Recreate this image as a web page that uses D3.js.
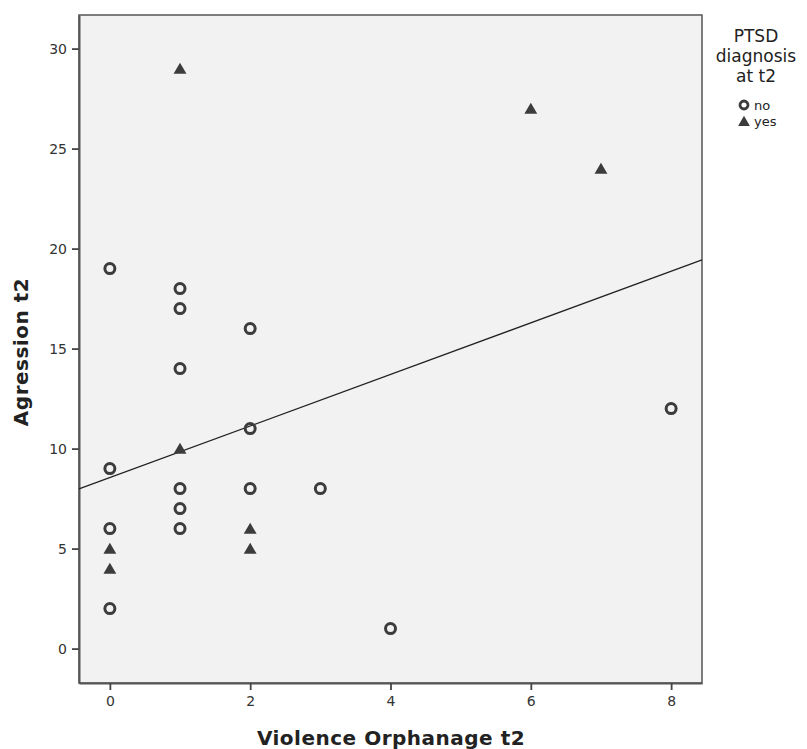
<!DOCTYPE html>
<html>
<head>
<meta charset="utf-8">
<script src="https://cdn.jsdelivr.net/npm/d3@7"></script>
<style>
  body { margin: 0; background: #fff; }
  text { font-family: "DejaVu Sans", sans-serif; }
</style>
</head>
<body>
<script>
   // data
   let noX  = [0, 0, 0, 0, 1, 1, 1, 1, 1, 1, 2, 2, 2, 3, 4, 8];
   let noY  = [19, 9, 6, 2, 18, 17, 14, 8, 7, 6, 16, 11, 8, 8, 1, 12];
   let yesX = [0, 0, 1, 1, 2, 2, 6, 7];
   let yesY = [5, 4, 29, 10, 6, 5, 27, 24];
   // fit line
   let fitIntercept = 8.55;
   let fitSlope = 1.29;
   let xTicks = [0, 2, 4, 6, 8];
   let yTicks = [0, 5, 10, 15, 20, 25, 30];
   let legendTitle = ['PTSD', 'diagnosis', 'at t2'];
   let legendLabels = ['no', 'yes'];

   let width = 807;
   let height = 749;
   let plotLeft = 79, plotRight = 702, plotTop = 15, plotBottom = 683;

   let svg = d3.select('body').append('svg')
      .attr('width', width)
      .attr('height', height);

   let xScale = d3.scaleLinear().domain([-0.44, 8.44]).range([plotLeft, plotRight]);
   let yScale = d3.scaleLinear().domain([-1.72, 31.68]).range([plotBottom, plotTop]);

   // plot background
   svg.append('rect')
      .attr('x', plotLeft).attr('y', plotTop)
      .attr('width', plotRight - plotLeft).attr('height', plotBottom - plotTop)
      .attr('fill', '#f2f2f2')
      .attr('stroke', '#555').attr('stroke-width', 1.5);

   // axes
   let xAxis = d3.axisBottom(xScale).tickValues(xTicks).tickSizeInner(7).tickSizeOuter(0).tickPadding(6);
   let yAxis = d3.axisLeft(yScale).tickValues(yTicks).tickSizeInner(7).tickSizeOuter(0).tickPadding(5);
   let gx = svg.append('g')
      .attr('transform', 'translate(0, ' + plotBottom + ')')
      .call(xAxis);
   let gy = svg.append('g')
      .attr('transform', 'translate(' + plotLeft + ', 0)')
      .call(yAxis);
   [gx, gy].forEach(g => {
      g.select('.domain').attr('stroke', '#555').attr('stroke-width', 2);
      g.selectAll('.tick line').attr('stroke', '#444').attr('stroke-width', 1.8);
      g.selectAll('.tick text').attr('fill', '#333').style('font-size', '14px')
         .style('font-family', '"DejaVu Sans", sans-serif');
   });

   // fit line
   let xd = xScale.domain();
   svg.append('line')
      .attr('x1', xScale(xd[0])).attr('y1', yScale(fitIntercept + fitSlope * xd[0]))
      .attr('x2', xScale(xd[1])).attr('y2', yScale(fitIntercept + fitSlope * xd[1]))
      .attr('stroke', '#222').attr('stroke-width', 1.3);

   // markers
   let triangle = d3.symbol().type(d3.symbolTriangle).size(72);
   svg.selectAll('circle.no')
      .data(noX.map((x, i) => [x, noY[i]]))
      .enter()
      .append('circle')
      .attr('class', 'no')
      .attr('cx', d => xScale(d[0]))
      .attr('cy', d => yScale(d[1]))
      .attr('r', 5)
      .attr('fill', 'none')
      .attr('stroke', '#3c3c3c')
      .attr('stroke-width', 3);
   svg.selectAll('path.yes')
      .data(yesX.map((x, i) => [x, yesY[i]]))
      .enter()
      .append('path')
      .attr('class', 'yes')
      .attr('d', triangle)
      .attr('transform', d => 'translate(' + xScale(d[0]) + ',' + (yScale(d[1]) + 1.5) + ')')
      .attr('fill', '#3c3c3c');

   // axis titles
   svg.append('text')
      .attr('x', 391).attr('y', 745)
      .attr('text-anchor', 'middle')
      .style('font-size', '20px').style('font-weight', 'bold')
      .style('letter-spacing', '0.5px')
      .attr('fill', '#222')
      .text('Violence Orphanage t2');
   svg.append('text')
      .attr('transform', 'translate(28, 352) rotate(-90)')
      .attr('text-anchor', 'middle')
      .style('font-size', '20px').style('font-weight', 'bold')
      .style('letter-spacing', '0.5px')
      .attr('fill', '#222')
      .text('Agression t2');

   // legend
   svg.selectAll('text.ltitle')
      .data(legendTitle)
      .enter()
      .append('text')
      .attr('class', 'ltitle')
      .attr('x', 756).attr('y', (d, i) => 42 + i * 20)
      .attr('text-anchor', 'middle')
      .style('font-size', '17px')
      .attr('fill', '#222')
      .text(d => d);
   let leg = svg.selectAll('g.leg')
      .data(legendLabels)
      .enter()
      .append('g')
      .attr('class', 'leg')
      .attr('transform', (d, i) => 'translate(744,' + (105 + i * 16) + ')');
   leg.each(function(d, i) {
      let g = d3.select(this);
      if (i === 0) {
         g.append('circle').attr('r', 4).attr('fill', 'none')
            .attr('stroke', '#3c3c3c').attr('stroke-width', 2.8);
      } else {
         g.append('path').attr('d', d3.symbol().type(d3.symbolTriangle).size(60))
            .attr('transform', 'translate(0,1.5)')
            .attr('fill', '#3c3c3c');
      }
   });
   leg.append('text')
      .attr('x', 10).attr('y', 4.5)
      .style('font-size', '13px')
      .attr('fill', '#222')
      .text(d => d);
</script>
</body>
</html>
